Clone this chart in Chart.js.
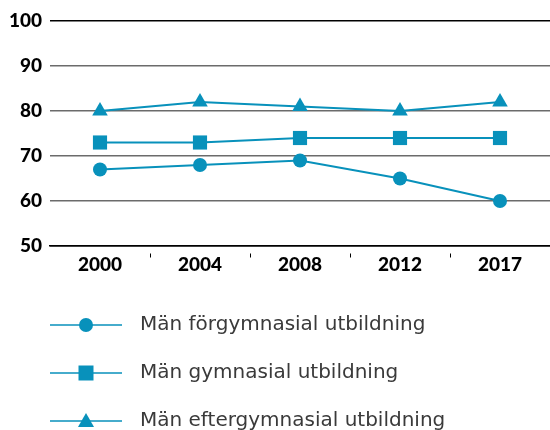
<!DOCTYPE html>
<html>
<head>
<meta charset="utf-8">
<script src="https://cdn.jsdelivr.net/npm/chart.js@4.4.1/dist/chart.umd.min.js"></script>
<style>
html, body { margin: 0; padding: 0; background: #fff; overflow: hidden; }
#wrap { width: 550px; height: 441px; position: relative; }
</style>
</head>
<body>
<div id="wrap"><canvas id="myChart"></canvas></div>
<script>
var years = ['2000', '2004', '2008', '2012', '2017'];
var forgymnasial = [67, 68, 69, 65, 60];
var gymnasial = [73, 73, 74, 74, 74];
var eftergymnasial = [80, 82, 81, 80, 82];
var seriesNames = ['Män förgymnasial utbildning', 'Män gymnasial utbildning', 'Män eftergymnasial utbildning'];
var yMin = 50, yMax = 100, yStep = 10;

var blue = '#0891bb';
var ctx = document.getElementById('myChart').getContext('2d');

// legend icon: line with marker in the middle (icon centred at x=79)
function legendIcon(style) {
    var c = document.createElement('canvas');
    c.width = 100;
    c.height = 20;
    var g = c.getContext('2d');
    g.strokeStyle = blue;
    g.fillStyle = blue;
    g.lineWidth = 1.5;
    g.beginPath();
    g.moveTo(21, 10);
    g.lineTo(93, 10);
    g.stroke();
    var cx = 57, cy = 10;
    g.beginPath();
    if (style == 'circle') {
        g.arc(cx, cy, 7, 0, Math.PI * 2);
    } else if (style == 'rect') {
        g.rect(cx - 7.5, cy - 7.5, 15, 15);
    } else {
        g.moveTo(cx, cy - 8);
        g.lineTo(cx + 8, cy + 6);
        g.lineTo(cx - 8, cy + 6);
        g.closePath();
    }
    g.fill();
    return c;
}
var icons = [legendIcon('circle'), legendIcon('rect'), legendIcon('triangle')];

function serie(label, data, style, radius) {
    return {
        label: label,
        data: data,
        borderColor: blue,
        backgroundColor: blue,
        borderWidth: 2,
        pointStyle: style,
        pointRadius: radius,
        pointHoverRadius: radius,
        pointBorderWidth: 0,
        pointBackgroundColor: blue,
        tension: 0
    };
}

var myChart = new Chart(ctx, {
    type: 'line',
    data: {
        labels: years,
        datasets: [
            serie(seriesNames[0], forgymnasial, 'circle', 7),
            serie(seriesNames[1], gymnasial, 'rect', 10),
            serie(seriesNames[2], eftergymnasial, 'triangle', 9)
        ]
    },
    options: {
        responsive: true,
        maintainAspectRatio: false,
        animation: false,
        layout: { autoPadding: false, padding: { top: 21, left: 0, right: 0, bottom: 0 } },
        plugins: {
            tooltip: { enabled: false },
            legend: {
                position: 'bottom',
                align: 'start',
                labels: {
                    usePointStyle: true,
                    pointStyleWidth: 102,
                    padding: 28,
                    color: '#3a3a3a',
                    font: { family: 'DejaVu Sans', size: 20 },
                    generateLabels: function(chart) {
                        var items = Chart.defaults.plugins.legend.labels.generateLabels(chart);
                        items.forEach(function(it, i) { it.pointStyle = icons[i]; });
                        return items;
                    }
                }
            }
        },
        scales: {
            x: {
                offset: true,
                afterFit: function(scale) {
                    scale.height = 41;
                    scale.paddingLeft = 0;
                    scale.paddingRight = 0;
                },
                border: { display: true, color: '#000', width: 1.5 },
                grid: {
                    offset: true,
                    drawOnChartArea: false,
                    drawTicks: true,
                    tickLength: 13,
                    tickBorderDash: [0, 7, 4, 40],
                    lineWidth: 1,
                    color: function(c) {
                        if (c.type !== 'tick' || c.index === 0) return 'rgba(0,0,0,0)';
                        return '#000';
                    }
                },
                ticks: {
                    padding: -6,
                    color: '#000',
                    font: { family: 'Lato', size: 19, weight: '900' }
                }
            },
            y: {
                min: yMin,
                max: yMax,
                afterFit: function(scale) { scale.width = 50; },
                border: { display: false },
                grid: {
                    drawTicks: false,
                    lineWidth: 1.5,
                    color: function(c) {
                        var v = c.tick ? c.tick.value : 0;
                        return (v === yMin || v === yMax) ? '#000' : '#6b6b6b';
                    }
                },
                ticks: {
                    stepSize: yStep,
                    padding: 8,
                    color: '#000',
                    font: { family: 'Lato', size: 19, weight: '900' }
                }
            }
        }
    }
});
</script>
</body>
</html>
